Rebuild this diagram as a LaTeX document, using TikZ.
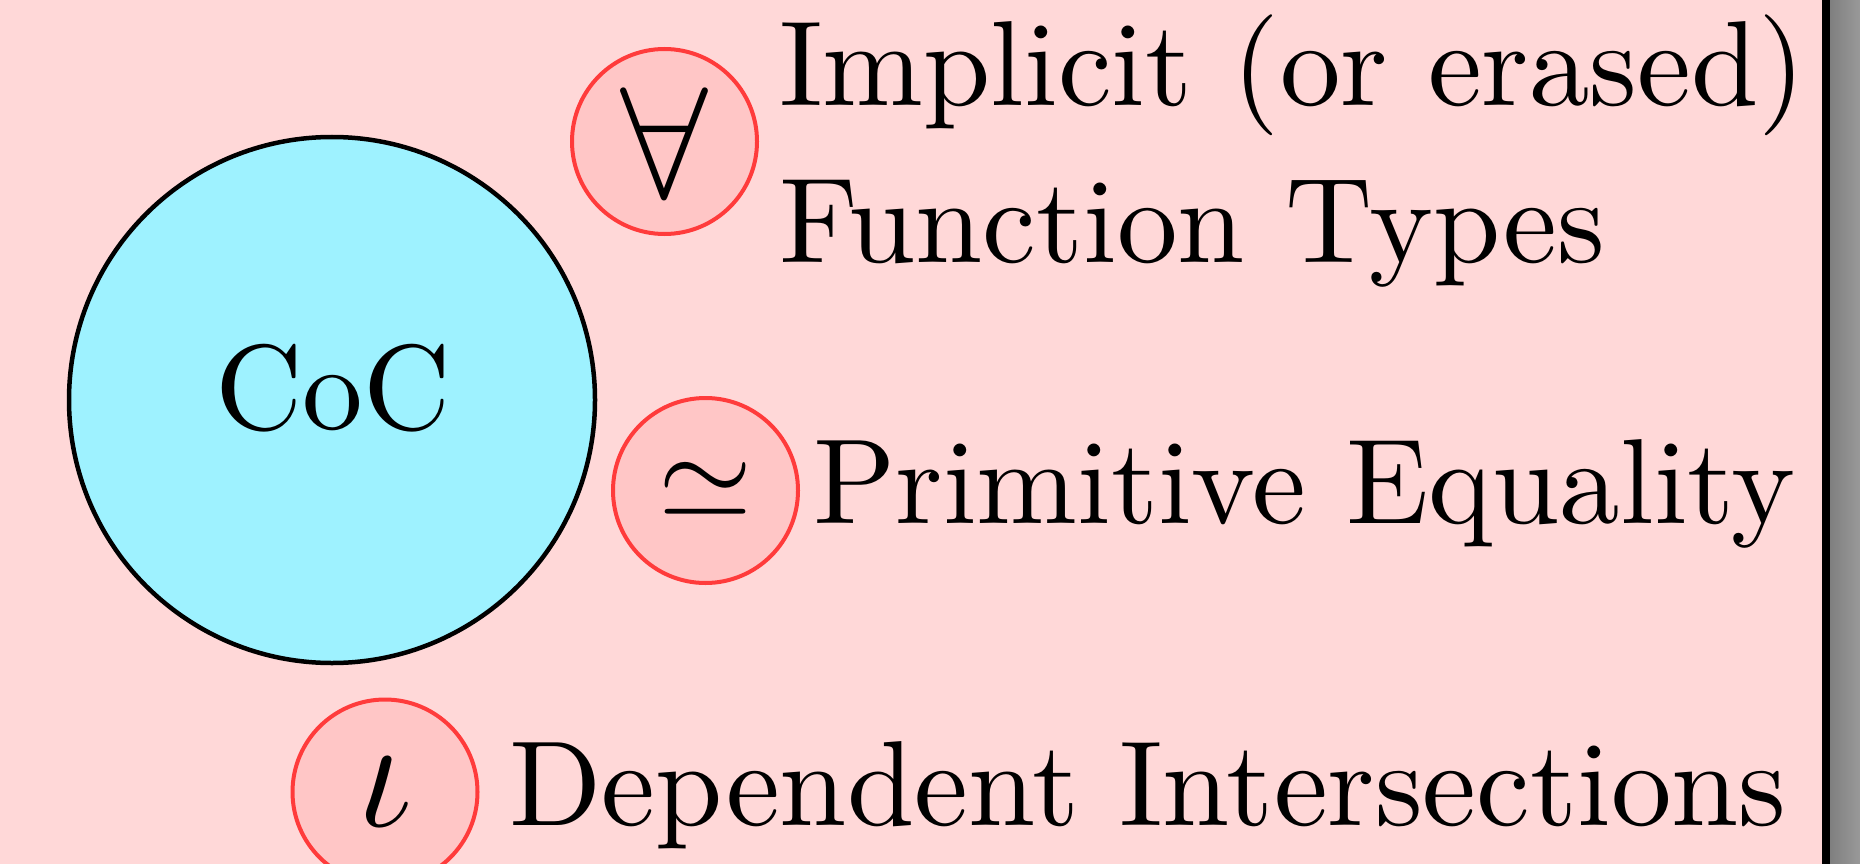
\RequirePackage{fix-cm}
\documentclass[tikz,border=0pt]{standalone}
\usepackage{fontspec}
\setmainfont{lmroman10-regular}[Extension=.otf]
\usepackage{tikz}
\definecolor{bgpink}{HTML}{FFD8D8}
\definecolor{circfill}{HTML}{FFC6C6}
\definecolor{circline}{HTML}{FF3B3B}
\definecolor{cocfill}{HTML}{9EF2FF}
\tikzset{
  feat/.style={circle, draw=circline, fill=circfill, line width=4pt, minimum size=185pt, inner sep=0pt},
  lbl/.style={anchor=base west, inner sep=0pt, font=\fontsize{121}{152}\selectfont},
}
\begin{document}
\begin{tikzpicture}[x=1pt,y=-1pt]
\useasboundingbox (0,0) rectangle (1860,864);
\fill[bgpink] (0,0) rectangle (1822,864);
\shade[left color=black!50, right color=black!40] (1830,0) rectangle (1860,864);
\fill[black] (1822,0) rectangle (1830,864);
% CoC
\node[circle, draw=black, fill=cocfill, line width=4.5pt, minimum size=526pt, inner sep=0pt] (coc) at (332,400) {};
\node[anchor=base, inner sep=0pt, font=\fontsize{121}{145}\selectfont] (coclbl) at (333,429) {CoC};
% forall
\node[feat] (fa) at (664.5,141.5) {};
\node[inner sep=0pt, font=\fontsize{158}{190}\selectfont] (fasym) at (664.5,142.5) {$\forall$};
\node[lbl] (fatxt1) at (779,106) {Implicit (or erased)};
\node[lbl] (fatxt2) at (779,262) {Function Types};
% simeq
\node[feat] (eq) at (705.5,490.5) {};
\node[inner sep=0pt, font=\fontsize{121}{145}\selectfont] (eqsym) at (706,490.5) {$\simeq$};
\node[lbl] (eqtxt) at (813,523) {Primitive Equality};
% iota
\node[feat] (io) at (385,792) {};
\node[inner sep=0pt, font=\fontsize{160}{190}\selectfont] (iosym) at (385,792) {$\iota$};
\node[lbl] (iotxt) at (509,825) {Dependent Intersections};
\end{tikzpicture}
\end{document}
